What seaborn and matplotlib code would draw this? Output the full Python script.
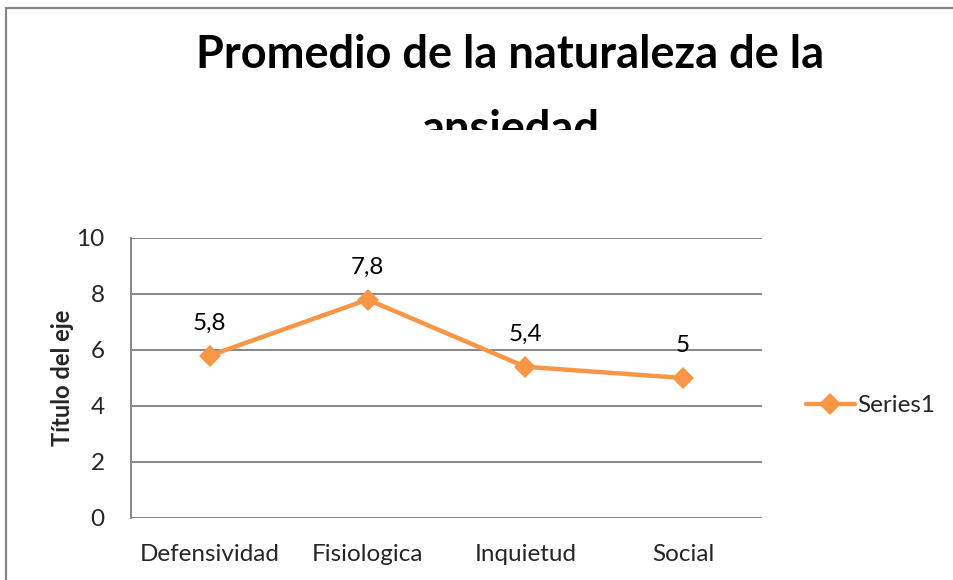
import matplotlib
matplotlib.use("Agg")
import matplotlib.pyplot as plt
from matplotlib.transforms import Bbox, TransformedBbox
from matplotlib.lines import Line2D
import seaborn as sns
import pandas as pd

categories = ["Defensividad", "Fisiologica", "Inquietud", "Social"]
values = [5.8, 7.8, 5.4, 5.0]
value_labels = ["5,8", "7,8", "5,4", "5"]
y_ticks = [0, 2, 4, 6, 8, 10]
series_name = "Series1"
title_lines = ["Promedio de la naturaleza de la", "ansiedad"]
y_title = "Título del eje"

sns.set_theme(style="white")
plt.rcParams["font.family"] = ["Lato", "DejaVu Sans"]

orange = "#F79646"
grid_gray = "#868686"

df = pd.DataFrame({"categoria": categories, "valor": values})

fig = plt.figure(figsize=(9.54, 5.8), dpi=100)
ax = fig.add_axes([0.1373, 0.1069, 0.6614, 0.4828])

sns.lineplot(data=df, x="categoria", y="valor", ax=ax, color=orange,
             linewidth=3.2, marker="D", markersize=11, markeredgewidth=0,
             label=series_name, sort=False)

ax.set_xlim(-0.5, len(categories) - 0.5)
ax.set_ylim(0, 10)
ax.set_yticks(y_ticks)
ax.set_yticklabels([str(t) for t in y_ticks], fontsize=17.5)
ax.set_xticks(range(len(categories)))
ax.set_xticklabels(categories, fontsize=17.5)
ax.tick_params(axis="y", length=0, pad=19)
ax.tick_params(axis="x", length=0, pad=19)
ax.set_xlabel("")
ax.set_ylabel(y_title, fontsize=17, fontweight="bold", labelpad=2)

ax.yaxis.grid(True, color=grid_gray, linewidth=1.4)
ax.xaxis.grid(False)
for side in ["top", "right", "bottom"]:
    ax.spines[side].set_visible(False)
ax.spines["left"].set_color(grid_gray)
ax.spines["left"].set_linewidth(1.4)

for i, (v, lab) in enumerate(zip(values, value_labels)):
    ax.annotate(lab, (i, v), xytext=(0, 16), textcoords="offset points",
                ha="center", va="bottom", fontsize=17.5, color="black")

leg = ax.legend(loc="center left", bbox_to_anchor=(1.035, 0.4), frameon=False,
                fontsize=17.5, handlelength=2.0, handletextpad=0.1)

# Title, with the second line cut off by the title box
fig.text(0.535, 0.883, title_lines[0], ha="center", va="baseline",
         fontsize=32.5, fontweight="bold", color="black")
t2 = fig.text(0.535, 0.753, title_lines[1], ha="center", va="baseline",
              fontsize=32.5, fontweight="bold", color="black")
clip = TransformedBbox(Bbox([[0, 1 - 130 / 580], [1, 1]]), fig.transFigure)
t2.set_clip_box(clip)
t2.set_clip_on(True)

# Chart area border along top and left edges
fig.add_artist(Line2D([6 / 954, 6 / 954], [0, 1 - 8 / 580], transform=fig.transFigure,
                      color=grid_gray, linewidth=1.6))
fig.add_artist(Line2D([6 / 954, 1], [1 - 8 / 580, 1 - 8 / 580], transform=fig.transFigure,
                      color=grid_gray, linewidth=1.6))

fig.savefig("out.png", dpi=100)
